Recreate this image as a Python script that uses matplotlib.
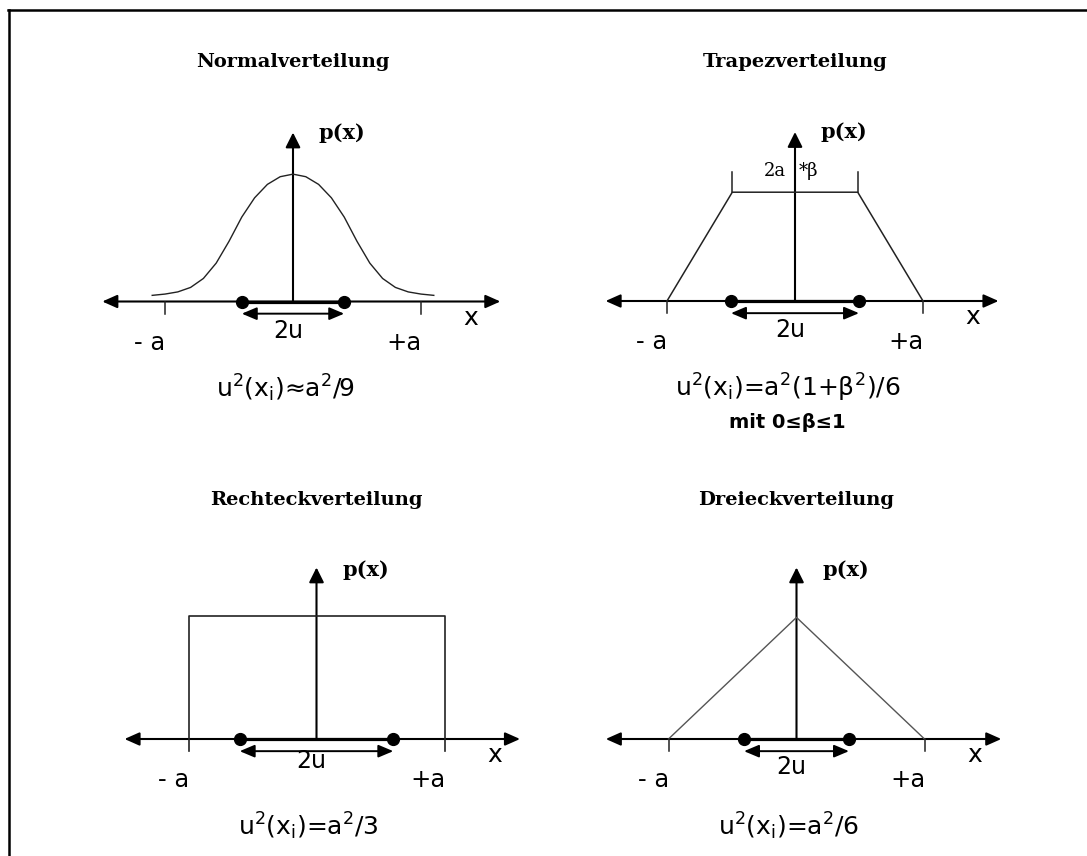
import matplotlib.pyplot as plt
from matplotlib.lines import Line2D
from matplotlib.patches import FancyArrowPatch

W, H = 1087, 856
S = 128  # pixels per unit "a"

# ---- data (x in units of a) ----
titles = ["Normalverteilung", "Trapezverteilung", "Rechteckverteilung", "Dreieckverteilung"]
formulas = [r"u$^2$(x$_\mathregular{i}$)≈a$^2$/9",
            r"u$^2$(x$_\mathregular{i}$)=a$^2$(1+β$^2$)/6",
            r"u$^2$(x$_\mathregular{i}$)=a$^2$/3",
            r"u$^2$(x$_\mathregular{i}$)=a$^2$/6"]
note_trapez = "mit 0≤β≤1"
beta_label = ["2a", "*β"]

normal_x = [-1.1, -1.0, -0.9, -0.8, -0.7, -0.6, -0.5, -0.4, -0.3, -0.2, -0.1, 0.0,
            0.1, 0.2, 0.3, 0.4, 0.5, 0.6, 0.7, 0.8, 0.9, 1.0, 1.1]
normal_y = [0.048, 0.058, 0.075, 0.11, 0.18, 0.30, 0.47, 0.66, 0.81, 0.915, 0.975, 0.995,
            0.975, 0.915, 0.81, 0.66, 0.47, 0.30, 0.18, 0.11, 0.075, 0.058, 0.048]
trapez_x = [-1.0, -0.49, 0.49, 1.0]
trapez_y = [0.0, 0.85, 0.85, 0.0]
rect_x = [-1.0, -1.0, 1.0, 1.0]
rect_y = [-0.095, 0.96, 0.96, -0.095]
tri_x = [-1.0, 0.0, 1.0]
tri_y = [0.0, 0.95, 0.0]

u_half = [0.40, 0.50, 0.60, 0.41]          # dots at +-u
axis_left = [-1.49, -1.48, -1.50, -1.49]
axis_right = [1.62, 1.59, 1.59, 1.60]
axis_top = [1.32, 1.32, 1.34, 1.34]

# ---- layout ----
origins = [(293, 301.5), (795, 301), (316.5, 739), (796.5, 739)]  # px from top-left
label_2u_y = [-0.285, -0.285, -0.225, -0.27]
XL, YL = (-2.3, 2.3), (-1.1, 2.3)
TICK = 0.095

plt.rcParams['font.family'] = 'DejaVu Sans'
plt.rcParams['mathtext.fontset'] = 'dejavusans'

fig = plt.figure(figsize=(W / 100, H / 100), dpi=100)
# frame: only top and left edges are inside the picture
fig.add_artist(Line2D([8.5 / W, 8.5 / W], [0, 1 - 10 / H], color='black', lw=1.8))
fig.add_artist(Line2D([7.5 / W, 1], [1 - 10 / H, 1 - 10 / H], color='black', lw=1.8))


def arrow(ax, p0, p1, style, lw=1.5):
    ax.add_patch(FancyArrowPatch(p0, p1, arrowstyle=style, mutation_scale=10,
                                 shrinkA=0, shrinkB=0, lw=lw, color='black'))


axes = []
for i, (ox, oy) in enumerate(origins):
    ax = fig.add_axes([(ox + XL[0] * S) / W, (H - oy + YL[0] * S) / H,
                       (XL[1] - XL[0]) * S / W, (YL[1] - YL[0]) * S / H])
    ax.set_xlim(*XL)
    ax.set_ylim(*YL)
    ax.axis('off')
    ax.patch.set_alpha(0)
    axes.append(ax)

    # axes with arrows
    arrow(ax, (axis_left[i], 0), (axis_right[i], 0), '<|-|>,head_length=0.9,head_width=0.4')
    arrow(ax, (0, 0), (0, axis_top[i]), '-|>,head_length=0.9,head_width=0.45')

    # 2u marker
    u = u_half[i]
    ax.plot([-u, u], [0, 0], color='black', lw=2.3, solid_capstyle='butt')
    arrow(ax, (-u, -TICK), (u, -TICK), '<|-|>,head_length=0.9,head_width=0.38', lw=1.4)
    ax.plot([-u, u], [0, 0], 'o', color='black', ms=8.5, zorder=5)

    # labels
    ax.text(-1.12, -0.375, "- a", fontsize=17.5, ha='center', va='baseline')
    ax.text(0.87, -0.375, "+a", fontsize=17.5, ha='center', va='baseline')
    ax.text(1.39, -0.18, "x", fontsize=18, ha='center', va='baseline')
    ax.text(-0.04, label_2u_y[i], "2u", fontsize=17, ha='center', va='baseline')
    ax.text(0.2, 1.27, "p(x)", fontsize=15, family='DejaVu Serif', weight='bold',
            ha='left', va='baseline')
    ax.text(-0.06, -0.75, formulas[i], fontsize=18, ha='center', va='baseline')
    ax.text(0, 1.83, titles[i], fontsize=14, family='DejaVu Serif', weight='bold',
            ha='center', va='baseline')

# distribution shapes
ax1, ax2, ax3, ax4 = axes
ax1.plot(normal_x, normal_y, color='#222222', lw=1.0)
for xv in (-1.0, 1.0):
    ax1.plot([xv, xv], [0, -TICK], color='#222222', lw=1.1)

ax2.plot(trapez_x, trapez_y, color='#222222', lw=1.1)
for xv in (-1.0, 1.0):
    ax2.plot([xv, xv], [0, -TICK], color='#222222', lw=1.1)
for xv in trapez_x[1:3]:
    ax2.plot([xv, xv], [trapez_y[1], 1.01], color='#222222', lw=1.1)
ax2.text(-0.07, 0.977, beta_label[0], fontsize=13, family='DejaVu Serif', ha='right', va='baseline')
ax2.text(0.03, 0.977, beta_label[1], fontsize=13, family='DejaVu Serif', ha='left', va='baseline')
ax2.text(-0.06, -0.99, note_trapez, fontsize=14, weight='bold', ha='center', va='baseline')

ax3.plot(rect_x, rect_y, color='#222222', lw=1.2)

ax4.plot(tri_x, tri_y, color='#555555', lw=1.0)
for xv in (-1.0, 1.0):
    ax4.plot([xv, xv], [0, -TICK], color='#222222', lw=1.1)

fig.savefig("out.png", dpi=100, facecolor='white')
